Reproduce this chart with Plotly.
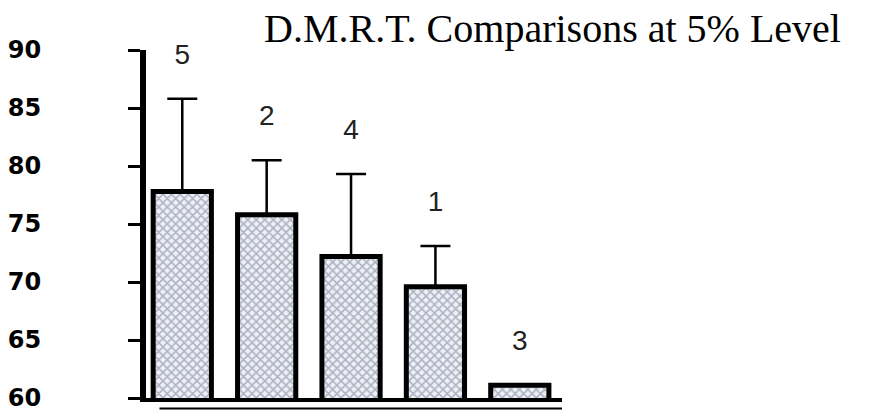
import plotly.graph_objects as go

# Data
treatments = ["5", "2", "4", "1", "3"]
means = [77.8, 75.8, 72.2, 69.6, 61.1]
err_plus = [8.0, 4.7, 7.1, 3.5, 0.0]
label_offset = 3.6
y_ticks = [60, 65, 70, 75, 80, 85, 90]

fig = go.Figure()

fig.add_trace(go.Bar(
    x=treatments,
    y=means,
    width=0.69,
    marker=dict(
        color="#e6e8ef",
        line=dict(color="black", width=5),
        pattern=dict(shape="x", fgcolor="#6b7390", bgcolor="#eef0f5",
                     size=6, solidity=0.45),
    ),
    error_y=dict(type="data", symmetric=False, array=err_plus,
                 arrayminus=[0] * len(err_plus), color="black",
                 thickness=2.5, width=15),
    showlegend=False,
    hoverinfo="skip",
))

fig.add_trace(go.Scatter(
    x=treatments,
    y=[m + e + label_offset for m, e in zip(means, err_plus)],
    mode="text",
    text=treatments,
    textfont=dict(family="Liberation Sans, Arial, sans-serif", size=28, color="#222"),
    showlegend=False,
    hoverinfo="skip",
    cliponaxis=False,
))

fig.update_layout(
    width=876, height=414,
    margin=dict(l=146, r=314, t=50, b=16, autoexpand=False),
    paper_bgcolor="white", plot_bgcolor="white",
    xaxis=dict(showline=True, linecolor="black", linewidth=4,
               showticklabels=False, ticks="", showgrid=False,
               zeroline=False, range=[-0.43, 4.5], automargin=False),
    yaxis=dict(range=[60, 90], tickvals=y_ticks, showline=True,
               linecolor="black", linewidth=6, ticks="outside",
               ticklen=12, tickwidth=3, tickcolor="black",
               showgrid=False, zeroline=False, automargin=False,
               ticklabelstandoff=82,
               tickfont=dict(family="DejaVu Sans, sans-serif", size=24,
                             color="black", weight="bold")),
    annotations=[dict(
        text="D.M.R.T. Comparisons at 5% Level",
        xref="paper", yref="paper", x=0.976, y=1.063,
        xanchor="center", yanchor="middle", showarrow=False,
        font=dict(family="Liberation Serif, Times New Roman, serif",
                  size=40, color="black"),
    )],
    shapes=[dict(type="line", xref="x", yref="paper",
                 x0=-0.27, x1=4.5, y0=-0.03, y1=-0.03,
                 line=dict(color="black", width=2))],
)

fig.write_html("out.html", config={"displayModeBar": False},
               post_script="document.body.style.margin='0';")
